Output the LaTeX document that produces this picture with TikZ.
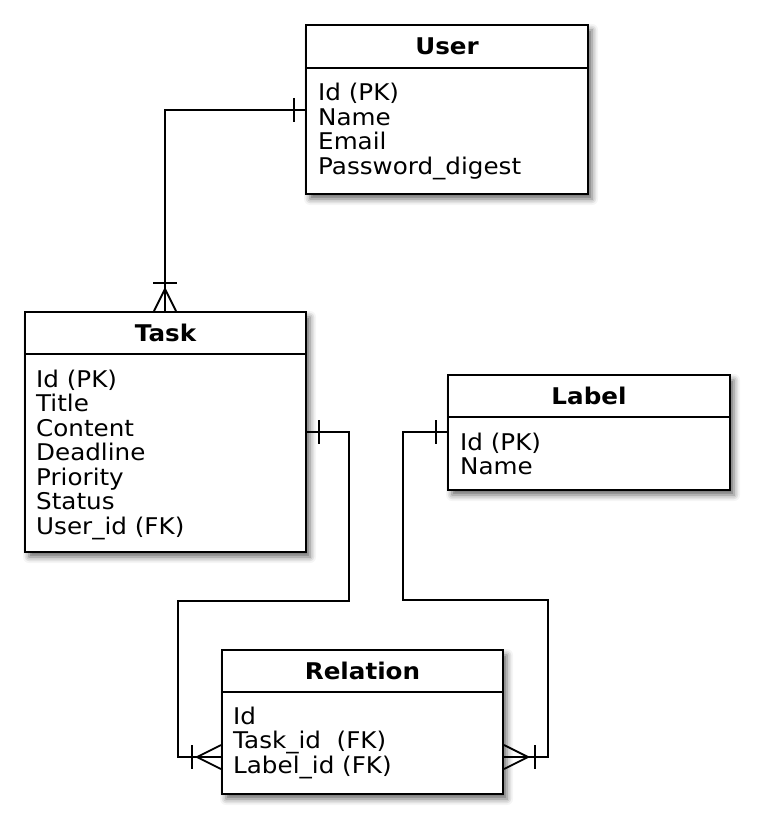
\documentclass[tikz,border=0pt]{standalone}
\usepackage{fontspec}
\setmainfont{DejaVu Sans}[FakeStretch=1.07]
\usetikzlibrary{calc,shadows.blur}

\begin{document}
\begin{tikzpicture}[x=1pt,y=-1pt,
  entity/.style={draw,line width=2pt,fill=white,anchor=north west,inner sep=0pt,
    blur shadow={shadow xshift=4pt,shadow yshift=-5pt,shadow blur radius=6pt,shadow opacity=60}},
  enttitle/.style={inner sep=0pt,font=\fontsize{23}{24.5}\selectfont\bfseries},
  entattr/.style={anchor=base west,inner sep=0pt,font=\fontsize{23}{24.5}\selectfont},
  link/.style={line width=1.8pt}]
\useasboundingbox (0,0) rectangle (758,826);

% entities
\node[entity,minimum width=282pt,minimum height=169pt] (userent) at (305,24) {};
\draw[line width=1.6pt] ([yshift=-44pt]userent.north west) -- ([yshift=-44pt]userent.north east);
\node[enttitle] (usertitle) at ([yshift=-22pt]userent.north) {User};
\foreach \a [count=\i from 0] in {Id (PK),Name,Email,Password\_digest}
  \node[entattr] (user-\i) at ($(userent.north west)+(13,77+24.5*\i)$) {\a};

\node[entity,minimum width=281pt,minimum height=240pt] (taskent) at (24,311) {};
\draw[line width=1.6pt] ([yshift=-43pt]taskent.north west) -- ([yshift=-43pt]taskent.north east);
\node[enttitle] (tasktitle) at ([yshift=-21.5pt]taskent.north) {Task};
\foreach \a [count=\i from 0] in {Id (PK),Title,Content,Deadline,Priority,Status,User\_id (FK)}
  \node[entattr] (task-\i) at ($(taskent.north west)+(12,76+24.5*\i)$) {\a};

\node[entity,minimum width=282pt,minimum height=115pt] (labelent) at (447,374) {};
\draw[line width=1.6pt] ([yshift=-43pt]labelent.north west) -- ([yshift=-43pt]labelent.north east);
\node[enttitle] (labeltitle) at ([yshift=-21.5pt]labelent.north) {Label};
\foreach \a [count=\i from 0] in {Id (PK),Name}
  \node[entattr] (label-\i) at ($(labelent.north west)+(13,76+24.5*\i)$) {\a};

\node[entity,minimum width=281pt,minimum height=144pt] (relent) at (221,649) {};
\draw[line width=1.6pt] ([yshift=-43pt]relent.north west) -- ([yshift=-43pt]relent.north east);
\node[enttitle] (reltitle) at ([yshift=-21.5pt]relent.north) {Relation};
\foreach \a [count=\i from 0] in {Id,Task\_id\ \ (FK),Label\_id (FK)}
  \node[entattr] (rel-\i) at ($(relent.north west)+(12,75+24.5*\i)$) {\a};

% user -- task
\coordinate (ut) at (165,110);
\draw[link] (userent.west |- ut) -- (ut) -- (ut |- taskent.north);
\draw[link] (userent.west |- ut) ++(-11,-12) -- ++(0,24);
\draw[link] (ut |- taskent.north) ++(-11,0) -- ++(11,-22) -- ++(11,22);
\draw[link] (ut |- taskent.north) ++(-12,-28) -- ++(24,0);

% task -- relation
\coordinate (tr1) at (349,432);
\coordinate (tr2) at (178,601);
\coordinate (tr3) at (178,757);
\draw[link] (taskent.east |- tr1) -- (tr1) |- (tr2) -- (tr3) -- (tr3 -| relent.west);
\draw[link] (taskent.east |- tr1) ++(12,-12) -- ++(0,24);
\draw[link] (tr3 -| relent.west) ++(0,-12) -- ++(-24,12) -- ++(24,12);
\draw[link] (tr3 -| relent.west) ++(-29,-12) -- ++(0,24);

% label -- relation
\coordinate (lr1) at (403,432);
\coordinate (lr2) at (548,600);
\coordinate (lr3) at (548,757);
\draw[link] (labelent.west |- lr1) -- (lr1) |- (lr2) -- (lr3) -- (lr3 -| relent.east);
\draw[link] (labelent.west |- lr1) ++(-11,-12) -- ++(0,24);
\draw[link] (lr3 -| relent.east) ++(0,-12) -- ++(24,12) -- ++(-24,12);
\draw[link] (lr3 -| relent.east) ++(31,-12) -- ++(0,24);
\end{tikzpicture}
\end{document}
